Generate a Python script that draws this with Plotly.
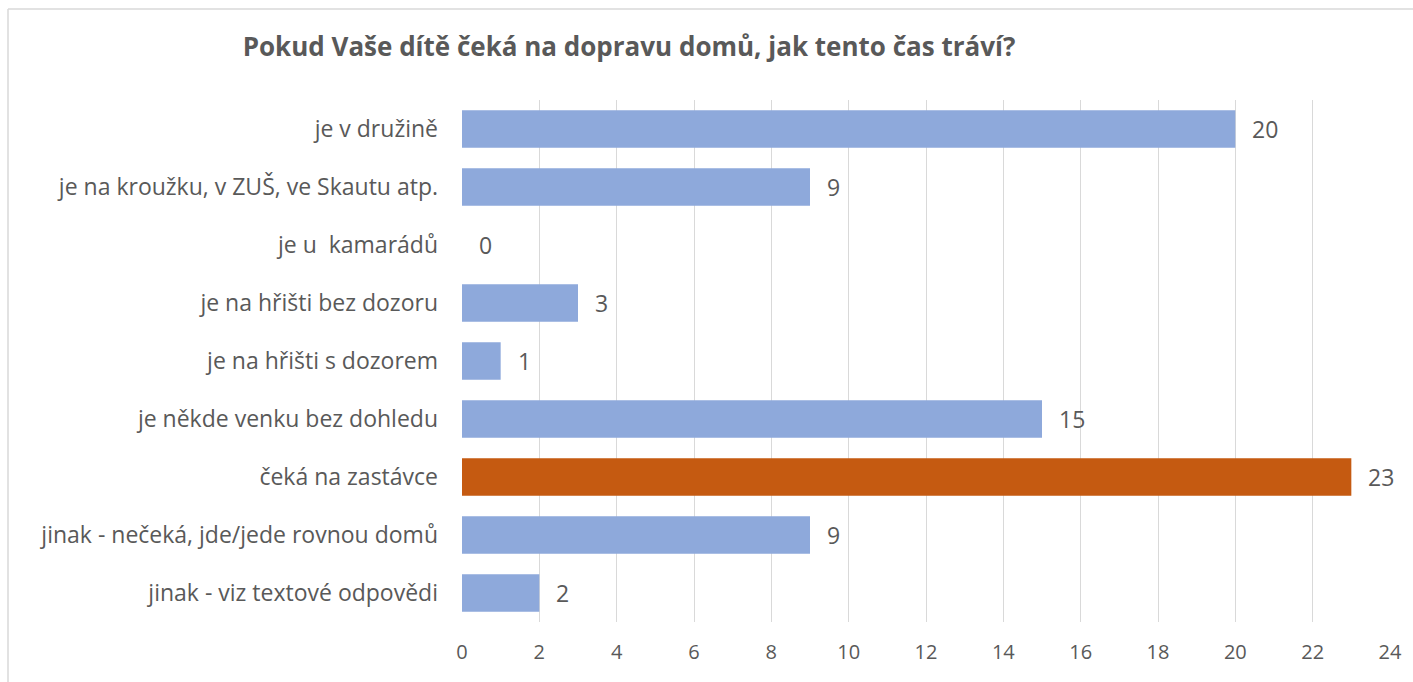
import plotly.graph_objects as go

categories = [
    "je v družině",
    "je na kroužku, v ZUŠ, ve Skautu atp.",
    "je u  kamarádů",
    "je na hřišti bez dozoru",
    "je na hřišti s dozorem",
    "je někde venku bez dohledu",
    "čeká na zastávce",
    "jinak - nečeká, jde/jede rovnou domů",
    "jinak - viz textové odpovědi",
]
values = [20, 9, 0, 3, 1, 15, 23, 9, 2]
highlight = "čeká na zastávce"
tick_vals = list(range(0, 25, 2))
title = "Pokud Vaše dítě čeká na dopravu domů, jak tento čas tráví?"

BLUE = "#8EA9DB"
ORANGE = "#C55A11"
GRAY = "#595959"
FONT = "Open Sans"

colors = [ORANGE if c == highlight else BLUE for c in categories]

fig = go.Figure()
fig.add_trace(go.Bar(
    y=categories, x=values, orientation="h",
    marker=dict(color=colors, line=dict(width=0)),
    width=0.65, hoverinfo="x+y",
))

for c, v in zip(categories, values):
    fig.add_annotation(x=v, y=c, text=str(v), showarrow=False,
                       xanchor="left", xshift=15,
                       font=dict(family=FONT, size=23, color=GRAY))

W, H = 1413, 682
L, R, T, B = 462, 23, 100, 60
pw = W - L - R
ph = H - T - B

# chart border: only the left and top edges are visible in the frame
bx0 = (8 - L) / pw
by1 = (H - B - 9) / ph
fig.add_shape(type="line", xref="paper", yref="paper",
              x0=bx0, x1=bx0, y0=-B / ph - 0.1, y1=by1,
              line=dict(color="#D9D9D9", width=1.5), layer="below")
fig.add_shape(type="line", xref="paper", yref="paper",
              x0=bx0, x1=(W - L) / pw + 0.1, y0=by1, y1=by1,
              line=dict(color="#D9D9D9", width=1.5), layer="below")

fig.update_layout(
    width=W, height=H,
    margin=dict(l=L, r=R, t=T, b=B),
    paper_bgcolor="white", plot_bgcolor="white",
    showlegend=False,
    title=dict(text="<b>" + title + "</b>", x=629 / W, xanchor="center",
               y=1 - 47 / H, yanchor="middle",
               font=dict(family=FONT, size=26, color=GRAY)),
    xaxis=dict(range=[0, 24], tickvals=tick_vals, showgrid=True,
               gridcolor="#D9D9D9", gridwidth=1.3, zeroline=False,
               showline=False, ticks="", ticklabelstandoff=16,
               tickfont=dict(family=FONT, size=20, color=GRAY)),
    yaxis=dict(autorange="reversed", showgrid=False, zeroline=False,
               showline=False, ticks="", ticklabelstandoff=23,
               tickfont=dict(family=FONT, size=23, color=GRAY)),
    bargap=0.35,
)

fig.write_html("out.html", config={"displayModeBar": False},
               post_script="document.body.style.margin='0';")
